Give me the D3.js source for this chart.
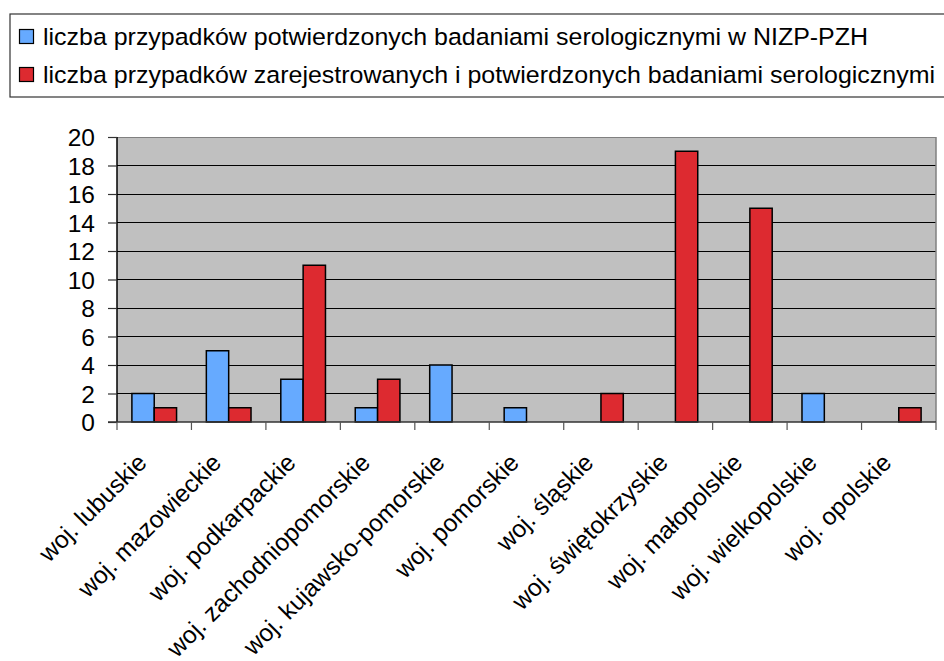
<!DOCTYPE html>
<html><head><meta charset="utf-8">
<script src="https://cdn.jsdelivr.net/npm/d3@7"></script>
<style>body{margin:0;background:#fff}svg{display:block;font-family:"Liberation Sans",Arial,sans-serif}</style>
</head><body><svg id="c" width="944" height="661"></svg>
<script>
const categories = ["woj. lubuskie","woj. mazowieckie","woj. podkarpackie","woj. zachodniopomorskie","woj. kujawsko-pomorskie","woj. pomorskie","woj. śląskie","woj. świętokrzyskie","woj. małopolskie","woj. wielkopolskie","woj. opolskie"];
const seriesNames = ["liczba przypadków potwierdzonych badaniami serologicznymi w NIZP-PZH","liczba przypadków zarejestrowanych i potwierdzonych badaniami serologicznymi"];
const seriesA = [2,5,3,1,4,1,0,0,0,2,0];
const seriesB = [1,1,11,3,0,0,2,19,15,0,1];
const yTicks = [0,2,4,6,8,10,12,14,16,18,20];
const colors = ["#66aaff","#dd2a30"];

const svg = d3.select("#c");
const L=117, R=936, T=137, B=422;
const FS = 24.5;
const x = d3.scaleBand().domain(categories).range([L,R]).padding(0);
const x1 = d3.scaleBand().domain([0,1]).range([x.bandwidth()*0.2, x.bandwidth()*0.8]).padding(0);
const y = d3.scaleLinear().domain([0,20]).range([B,T]);

svg.append("rect").attr("x",L).attr("y",T).attr("width",R-L).attr("height",B-T).attr("fill","#c0c0c0");
svg.append("g").selectAll("line").data(yTicks.filter(d=>d>0)).join("line")
  .attr("x1",L).attr("x2",R).attr("y1",d=>y(d)).attr("y2",d=>y(d))
  .attr("stroke",d=>d===20?"#808080":"#000").attr("stroke-width",1).attr("shape-rendering","crispEdges");
svg.append("line").attr("x1",R).attr("x2",R).attr("y1",T).attr("y2",B).attr("stroke","#808080").attr("stroke-width",1.5);

const data = [seriesA, seriesB];
const g = svg.append("g");
categories.forEach((c,i)=>{
  [0,1].forEach(s=>{
    const v = data[s][i];
    if(!v) return;
    g.append("rect").attr("x",x(c)+x1(s)).attr("y",y(v)).attr("width",x1.bandwidth()).attr("height",y(0)-y(v))
     .attr("fill",colors[s]).attr("stroke","#000").attr("stroke-width",1.5);
  });
});

const ya = svg.append("g").attr("transform",`translate(${L},0)`)
  .call(d3.axisLeft(y).tickValues(yTicks).tickSize(9).tickPadding(13).tickFormat(d3.format("d")));
ya.select(".domain").attr("stroke","#000").attr("stroke-width",1.5).attr("d",`M0,${T}V${B}`);
ya.selectAll(".tick line").attr("stroke","#333").attr("stroke-width",1.2);
ya.selectAll(".tick text").attr("font-size",FS).attr("fill","#000").attr("font-family","Liberation Sans, Arial, sans-serif").attr("dy","0.36em");

const xa = svg.append("g").attr("transform",`translate(0,${B})`);
xa.append("line").attr("x1",L-9).attr("x2",R).attr("y1",0).attr("y2",0).attr("stroke","#333").attr("stroke-width",1.5);
const tickPos = categories.map(c=>x(c)).concat([R]);
xa.selectAll("line.t").data(tickPos).join("line").attr("class","t")
  .attr("x1",d=>d).attr("x2",d=>d).attr("y1",0).attr("y2",8).attr("stroke","#555").attr("stroke-width",1.2);
xa.selectAll("text").data(categories).join("text")
  .attr("transform",d=>`translate(${x(d)+x.bandwidth()/2-6},42) rotate(-45)`)
  .attr("text-anchor","end").attr("font-size",FS).attr("fill","#000").text(d=>d);

svg.append("rect").attr("x",10).attr("y",14).attr("width",960).attr("height",83).attr("fill","#fff").attr("stroke","#333").attr("stroke-width",1.2);
const legendLens = [825, 892];
seriesNames.forEach((n,i)=>{
  const yy = 29 + i*38;
  svg.append("rect").attr("x",19.5).attr("y",yy+0.5).attr("width",14).attr("height",14).attr("fill",colors[i]).attr("stroke","#000").attr("stroke-width",1.2);
  svg.append("text").attr("x",43).attr("y",yy+16).attr("font-size",FS).attr("fill","#000")
    .attr("textLength",legendLens[i]).attr("lengthAdjust","spacingAndGlyphs").text(n);
});
</script></body></html>
